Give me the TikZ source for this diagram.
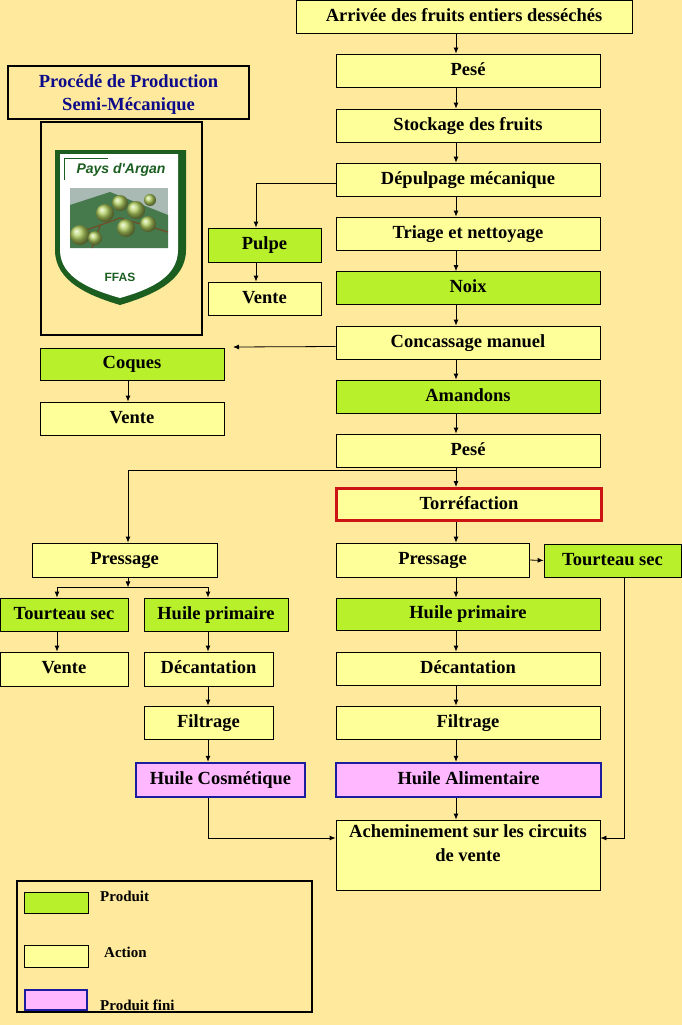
\documentclass[tikz,border=0pt]{standalone}
\usepackage{fontspec}
\setmainfont{Liberation Serif}
\newfontfamily\logofont{Liberation Sans}
\usetikzlibrary{arrows.meta}

\definecolor{fond}{HTML}{FFE99C}
\definecolor{jaune}{HTML}{FFFF99}
\definecolor{vert}{HTML}{B8F02C}
\definecolor{rose}{HTML}{FFB8FF}
\definecolor{bleu}{HTML}{1C1C9E}
\definecolor{rouge}{HTML}{CC1414}
\definecolor{marine}{HTML}{0C0C8A}
\definecolor{sapin}{HTML}{1B5E20}
\definecolor{ciel}{HTML}{A9B9B4}
\definecolor{fruit}{HTML}{B3D060}

\begin{document}
\begin{tikzpicture}[
  x = 1pt, y = -1pt,
  every node/.style = {font = \bfseries\fontsize{18.5}{22}\selectfont, inner sep = 0pt},
  boite/.style = {draw, line width = 0.8pt, minimum height = 33pt, text height = 13pt, text depth = 4pt},
  action/.style = {boite, fill = jaune},
  produit/.style = {boite, fill = vert},
  fini/.style = {boite, fill = rose, draw = bleu, line width = 2.5pt, minimum height = 34pt},
  cadre/.style = {draw, line width = 2.5pt},
  legtxt/.style = {anchor = west, font = \bfseries\fontsize{15}{18}\selectfont},
  fleche/.style = {-{Latex[length = 6pt, width = 5pt]}, line width = 0.8pt},
  ]
  \fill[fond] (0,0) rectangle (682,1025);
  \useasboundingbox (0,0) rectangle (682,1025);

  % axes of the arrows
  \coordinate (axe)  at (456,0);
  \coordinate (axeP) at (256,0);
  \coordinate (axeL) at (128,0);
  \coordinate (axeV) at (57,0);
  \coordinate (axeG) at (208,0);
  \coordinate (axeT) at (624,0);
  \coordinate (coqfin) at (233,347);

  % main column
  \node[action, minimum width = 336pt] (arrivee) at (464,17) {Arrivée des fruits entiers desséchés};
  \node[action, minimum width = 264pt] (pese1) at (468,70.5) {Pesé};
  \node[action, minimum width = 264pt] (stock) at (468,125.5) {Stockage des fruits};
  \node[action, minimum width = 264pt] (depulp) at (468,179.5) {Dépulpage mécanique};
  \node[action, minimum width = 264pt] (triage) at (468,233.5) {Triage et nettoyage};
  \node[produit, minimum width = 264pt] (noix) at (468,288) {Noix};
  \node[action, minimum width = 264pt] (concass) at (468,342.5) {Concassage manuel};
  \node[produit, minimum width = 264pt] (amand) at (468,396.5) {Amandons};
  \node[action, minimum width = 264pt] (pese2) at (468,450.5) {Pesé};
  \node[action, draw = rouge, line width = 3pt, minimum width = 265pt, minimum height = 32pt] (torref) at (469,504.5) {Torréfaction};
  \node[action, minimum width = 193pt, minimum height = 34pt] (pressR) at (432.5,560) {Pressage};
  \node[produit, minimum width = 137pt] (tourR) at (612.5,560.5) {Tourteau sec};
  \node[produit, minimum width = 264pt, minimum height = 32pt] (huileR) at (468,614) {Huile primaire};
  \node[action, minimum width = 264pt] (decR) at (468,668.5) {Décantation};
  \node[action, minimum width = 264pt] (filtR) at (468,722.5) {Filtrage};
  \node[fini, minimum width = 265pt] (alim) at (468.5,780) {Huile Alimentaire};
  \node[action, minimum width = 264pt, minimum height = 70pt] (achem) at (468,855) {};
  \node[anchor = north, align = center] (achemtxt) at ([yshift = -5pt]achem.north) {Acheminement sur les circuits\\[2pt]de vente};

  % side products
  \node[produit, minimum width = 113pt, minimum height = 34pt] (pulpe) at (264.5,245) {Pulpe};
  \node[action, minimum width = 113pt] (vente1) at (264.5,298.5) {Vente};
  \node[produit, minimum width = 184pt, minimum height = 32pt] (coques) at (132,364) {Coques};
  \node[action, minimum width = 184pt] (vente2) at (132,418.5) {Vente};

  % left column
  \node[action, minimum width = 185pt, minimum height = 34pt] (pressL) at (124.5,560) {Pressage};
  \node[produit, minimum width = 128pt] (tourL) at (64,614.5) {Tourteau sec};
  \node[produit, minimum width = 144pt] (huileL) at (216,614.5) {Huile primaire};
  \node[action, minimum width = 128pt, minimum height = 34pt] (venteL) at (64,669) {Vente};
  \node[action, minimum width = 129pt, minimum height = 34pt] (decL) at (208.5,669) {Décantation};
  \node[action, minimum width = 129pt] (filtL) at (208.5,722.5) {Filtrage};
  \node[fini, minimum width = 169pt] (cosm) at (220.5,780) {Huile Cosmétique};

  % title and logo
  \node[cadre, minimum width = 241pt, minimum height = 53pt] (titre) at (128.5,92.5) {};
  \node[align = center, text = marine] (titretxt) at ([yshift = -2pt]titre.center) {Procédé de Production\\[1pt]Semi-Mécanique};
  \node[cadre, minimum width = 161pt, minimum height = 213pt] (logo) at (121.5,228.5) {};
  \fill[sapin] (55,150) -- (186,150) -- (186,250) .. controls (186,282) and (150,296) .. (120,305)
    .. controls (90,296) and (55,282) .. (55,250) -- cycle;
  \fill[white] (60,154) -- (178,154) -- (178,250) .. controls (178,278) and (148,290) .. (120,298)
    .. controls (92,290) and (60,278) .. (60,250) -- cycle;
  \draw[sapin, line width = 1pt] (64,158) -- (108,158) (64,158) -- (64,180);
  \fill[ciel] (70,188) rectangle (168,248);
  \fill[sapin!70!ciel] (70,205) -- (110,192) -- (168,215) -- (168,248) -- (70,248) -- cycle;
  \draw[brown!60!black, line width = 1.2pt] (70,236) -- (120,218) -- (168,232) (100,226) -- (92,248);
  \foreach \fx/\fy/\fr in {80/235/10, 105/213/9, 120/203/8, 136/210/9, 148/224/8, 126/228/9, 95/238/7, 150/200/6}
    \shade[ball color = fruit] (\fx,\fy) circle (\fr);
  \node[font = \logofont\bfseries\itshape\fontsize{14}{16}\selectfont, text = sapin] (pays) at (121,170) {Pays d'Argan};
  \node[font = \logofont\bfseries\fontsize{12}{14}\selectfont, text = sapin] (ffas) at (120,277) {FFAS};

  % legend
  \node[cadre, minimum width = 295pt, minimum height = 131pt] (legende) at (164.5,946.5) {};
  \node[produit, minimum width = 64pt, minimum height = 21pt] (legprod) at (56,902.5) {};
  \node[action, minimum width = 64pt, minimum height = 22pt] (legact) at (56,956) {};
  \node[fini, minimum width = 62pt, minimum height = 20pt] (legfini) at (56,1000) {};
  \node[legtxt] (txtprod) at (100,896) {Produit};
  \node[legtxt] (txtact) at (104,952) {Action};
  \node[legtxt] (txtfini) at (100,1005) {Produit fini};

  % arrows of the main column
  \foreach \a/\b in {arrivee/pese1, pese1/stock, stock/depulp, depulp/triage, triage/noix,
                     noix/concass, concass/amand, amand/pese2, pese2/torref, torref/pressR,
                     pressR/huileR, huileR/decR, decR/filtR, filtR/alim, alim/achem}
    \draw[fleche] (\a.south -| axe) -- (\b.north -| axe);

  % other arrows
  \draw[fleche] ([yshift = -4pt]depulp.west) -| (pulpe.north -| axeP);
  \draw[fleche] (pulpe.south -| axeP) -- (vente1.north -| axeP);
  \draw[fleche] ([yshift = -4pt]concass.west) -- (coqfin);
  \draw[fleche] (coques.south -| axeL) -- (vente2.north -| axeL);
  \draw[fleche] (pese2.south -| axe) -- ++(0,3) -| (pressL.north -| axeL);
  \draw[fleche] (pressL.south -| axeL) -- ++(0,10);
  \draw[fleche] (pressL.south -| axeL) ++(0,10) -| (tourL.north -| axeV);
  \draw[fleche] (pressL.south -| axeL) ++(0,10) -| (huileL.north -| axeG);
  \draw[fleche] (tourL.south -| axeV) -- (venteL.north -| axeV);
  \draw[fleche] (huileL.south -| axeG) -- (decL.north -| axeG);
  \draw[fleche] (decL.south -| axeG) -- (filtL.north -| axeG);
  \draw[fleche] (filtL.south -| axeG) -- (cosm.north -| axeG);
  \draw[fleche] (cosm.south -| axeG) |- ([yshift = 17pt]achem.west);
  \draw[fleche] (pressR.east) -- (tourR.west);
  \draw[fleche] (tourR.south -| axeT) |- ([yshift = 17pt]achem.east);
\end{tikzpicture}
\end{document}
